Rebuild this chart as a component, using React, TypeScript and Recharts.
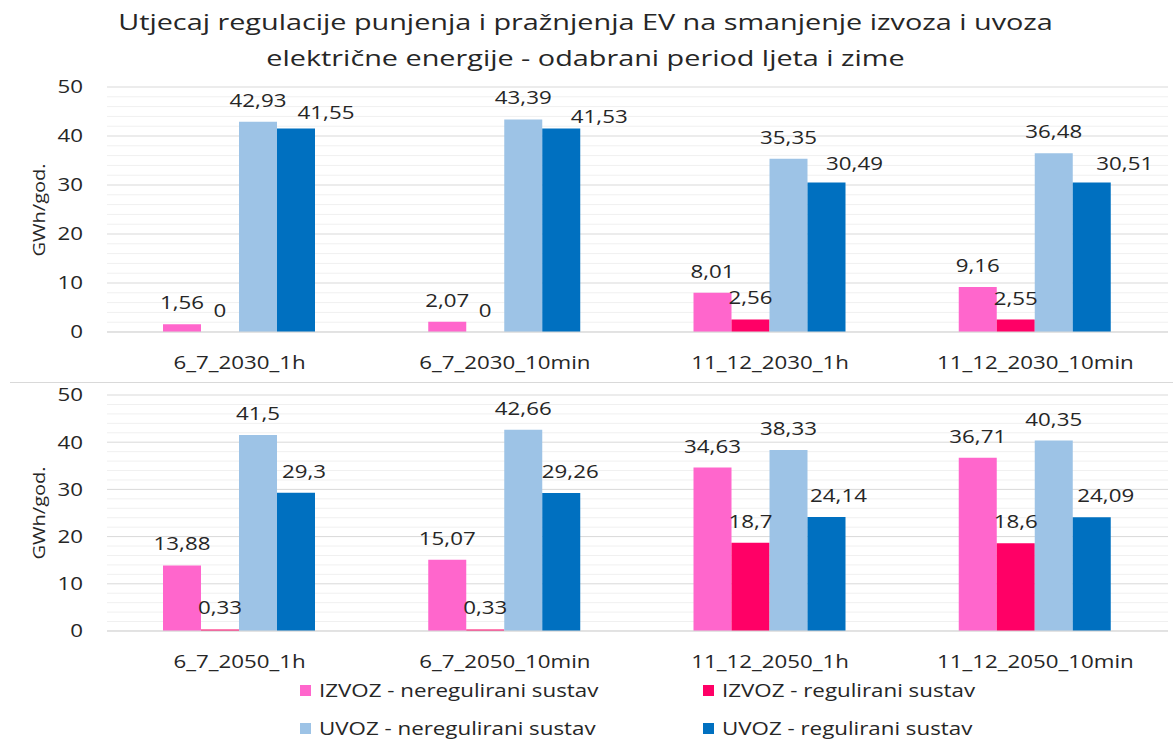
import { BarChart, Bar, XAxis, YAxis, CartesianGrid, LabelList } from "recharts";

const FONT = "'Open Sans', sans-serif";
const TEXT = "#262626";
// the reference text is drawn horizontally stretched
const SX = 1.24;

const categories2030 = ["6_7_2030_1h", "6_7_2030_10min", "11_12_2030_1h", "11_12_2030_10min"];
const izvozNereg2030 = [1.56, 2.07, 8.01, 9.16];
const izvozReg2030 = [0, 0, 2.56, 2.55];
const uvozNereg2030 = [42.93, 43.39, 35.35, 36.48];
const uvozReg2030 = [41.55, 41.53, 30.49, 30.51];

const categories2050 = ["6_7_2050_1h", "6_7_2050_10min", "11_12_2050_1h", "11_12_2050_10min"];
const izvozNereg2050 = [13.88, 15.07, 34.63, 36.71];
const izvozReg2050 = [0.33, 0.33, 18.7, 18.6];
const uvozNereg2050 = [41.5, 42.66, 38.33, 40.35];
const uvozReg2050 = [29.3, 29.26, 24.14, 24.09];

const yMax = 50;
const yTicks = [0, 10, 20, 30, 40, 50];
const minorTicks = [2, 4, 6, 8, 12, 14, 16, 18, 22, 24, 26, 28, 32, 34, 36, 38, 42, 44, 46, 48];

const seriesKeys = ["izvozNereg", "izvozReg", "uvozNereg", "uvozReg"];
const seriesNames = [
  "IZVOZ - neregulirani sustav",
  "IZVOZ - regulirani sustav",
  "UVOZ - neregulirani sustav",
  "UVOZ - regulirani sustav",
];
const seriesColors = ["#FF66CC", "#FF0066", "#9DC3E6", "#0070C0"];

// label nudges for the dark blue series (Excel moves them aside to avoid overlap)
const darkLabelShift2030 = [[30, 6], [38, 9], [28, 2], [33, 2]];
const darkLabelShift2050 = [[8, 0], [9, 0], [12, 0], [14, 0]];

function buildRows(cats: string[], a: number[], b: number[], c: number[], d: number[]) {
  return cats.map((name, i) => ({
    name,
    izvozNereg: a[i],
    izvozReg: b[i],
    uvozNereg: c[i],
    uvozReg: d[i],
  }));
}

const rows2030 = buildRows(categories2030, izvozNereg2030, izvozReg2030, uvozNereg2030, uvozReg2030);
const rows2050 = buildRows(categories2050, izvozNereg2050, izvozReg2050, uvozNereg2050, uvozReg2050);

const fmt = (v: any) => String(v).replace(".", ",");

// minor gridlines every 2 GWh, placed inside the plot area
const minorGrid = ({ offset }: any) =>
  minorTicks.map((t) => offset.top + offset.height * (1 - t / yMax));

// zero bars get a hair of height so their "0" label is still drawn
const tinyForZero = (v: any) => (v === 0 ? 0.01 : 0);

const XTick = ({ x, y, payload }: any) => (
  <text
    transform={`translate(${x},${y}) scale(${SX},1)`}
    textAnchor="middle"
    dy="0.71em"
    fill={TEXT}
    fontSize={18}
    fontFamily={FONT}
  >
    {payload.value}
  </text>
);

const YTick = ({ x, y, payload }: any) => (
  <text
    transform={`translate(${x},${y}) scale(${SX},1)`}
    textAnchor="end"
    dy="0.36em"
    fill={TEXT}
    fontSize={18}
    fontFamily={FONT}
  >
    {payload.value}
  </text>
);

const makeLabel = (shifts?: number[][]) => (props: any) => {
  const vb = props.viewBox || props;
  const [dx, dy] = shifts ? shifts[props.index] || [0, 0] : [0, 0];
  const cx = vb.x + vb.width / 2 + dx;
  const ty = Math.min(vb.y, vb.y + vb.height) - 15 + dy;
  return (
    <text
      transform={`translate(${cx},${ty}) scale(${SX},1)`}
      textAnchor="middle"
      fill={TEXT}
      fontSize={18}
      fontFamily={FONT}
    >
      {fmt(props.value)}
    </text>
  );
};

function Panel({ data, top, height, marginTop, labelY, darkShift }: any) {
  return (
    <div style={{ position: "absolute", left: 0, top, width: 1173, height }}>
      <BarChart
        width={1173}
        height={height}
        data={data}
        margin={{ top: marginTop, right: 5, bottom: 0, left: 0 }}
        barGap={0}
        barCategoryGap={56}
      >
        <CartesianGrid vertical={false} stroke="#f0f0f0" horizontalCoordinatesGenerator={minorGrid} />
        <CartesianGrid vertical={false} stroke="#d9d9d9" />
        <XAxis
          dataKey="name"
          height={50}
          tickLine={false}
          tickSize={0}
          tickMargin={24}
          axisLine={{ stroke: "#d9d9d9" }}
          tick={<XTick />}
        />
        <YAxis
          width={107}
          domain={[0, yMax]}
          ticks={yTicks}
          axisLine={false}
          tickLine={false}
          tickSize={0}
          tickMargin={24}
          tick={<YTick />}
          label={{
            content: () => (
              <text
                transform={`translate(40,${labelY}) rotate(-90) scale(1.18,1)`}
                textAnchor="middle"
                dominantBaseline="middle"
                fill={TEXT}
                fontSize={17}
                fontFamily={FONT}
              >
                GWh/god.
              </text>
            ),
          }}
        />
        {seriesKeys.map((k, i) => (
          <Bar
            key={k}
            dataKey={k}
            name={seriesNames[i]}
            fill={seriesColors[i]}
            minPointSize={tinyForZero}
            isAnimationActive={false}
          >
            <LabelList dataKey={k} content={makeLabel(i === 3 ? darkShift : undefined)} />
          </Bar>
        ))}
      </BarChart>
    </div>
  );
}

export default function App() {
  return (
    <div
      style={{
        position: "absolute",
        left: 0,
        top: 0,
        width: 1173,
        height: 743,
        background: "#fff",
        fontFamily: FONT,
        color: TEXT,
        overflow: "hidden",
      }}
    >
      <div
        style={{
          position: "absolute",
          left: 0,
          top: 4,
          width: 1173,
          textAlign: "center",
          fontSize: 22.5,
          lineHeight: "36px",
          transform: "scaleX(1.28)",
          transformOrigin: "590px 0",
        }}
      >
        Utjecaj regulacije punjenja i pražnjenja EV na smanjenje izvoza i uvoza
        <br />
        električne energije - odabrani period ljeta i zime
      </div>
      <Panel data={rows2030} top={0} height={382} marginTop={87} labelY={210} darkShift={darkLabelShift2030} />
      <div style={{ position: "absolute", left: 10, top: 382, width: 1163, height: 1, background: "#d9d9d9" }} />
      <Panel data={rows2050} top={383} height={298} marginTop={12} labelY={130} darkShift={darkLabelShift2050} />
      {seriesNames.map((n, i) => (
        <div
          key={n}
          style={{
            position: "absolute",
            left: i % 2 === 0 ? 300 : 703,
            top: i < 2 ? 678 : 716,
            height: 24,
            display: "flex",
            alignItems: "center",
            fontSize: 18,
            whiteSpace: "nowrap",
          }}
        >
          <span style={{ width: 11, height: 11, background: seriesColors[i], marginRight: 8, display: "inline-block" }} />
          <span style={{ display: "inline-block", transform: `scaleX(${SX})`, transformOrigin: "0 50%" }}>{n}</span>
        </div>
      ))}
    </div>
  );
}
